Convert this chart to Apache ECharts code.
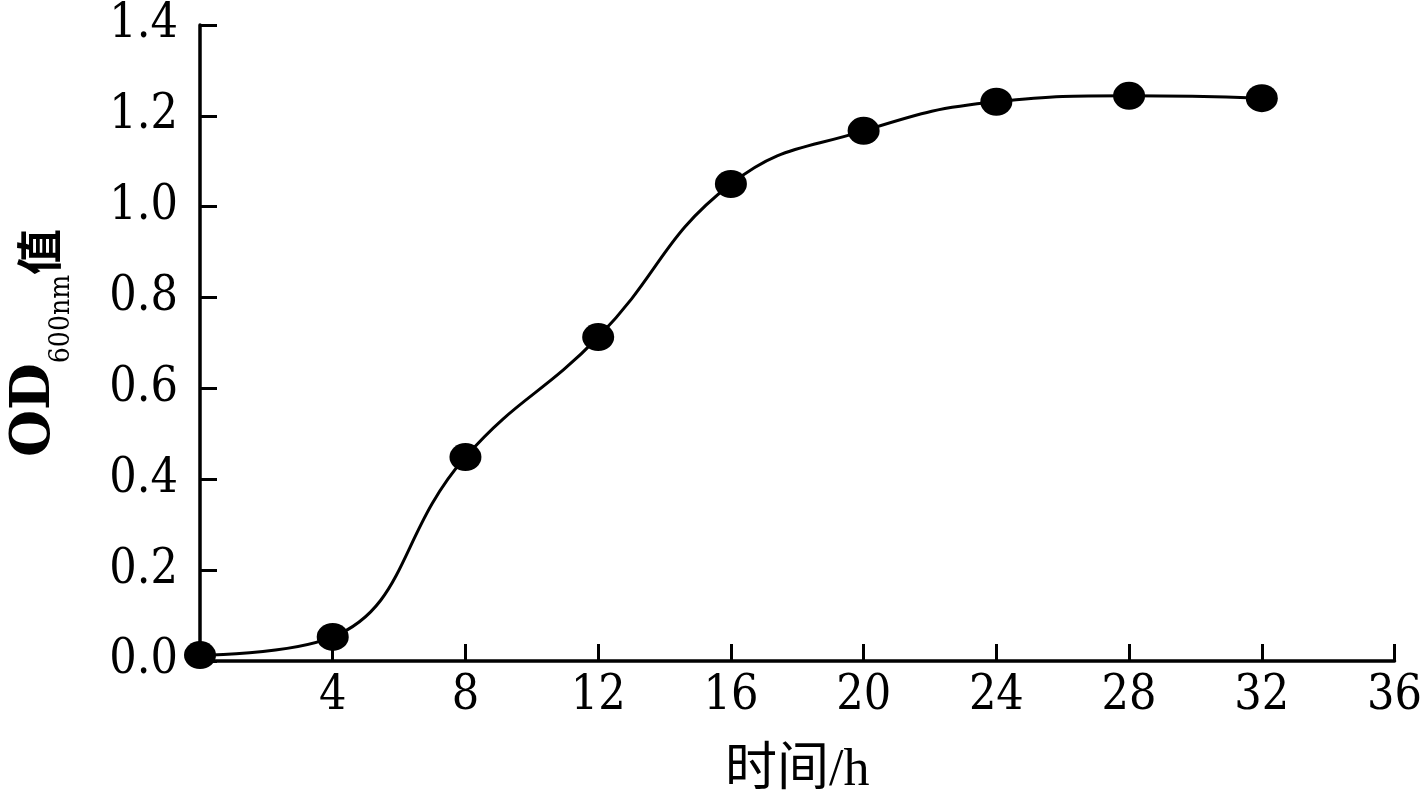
<!DOCTYPE html>
<html>
<head>
<meta charset="utf-8">
<script src="https://cdn.jsdelivr.net/npm/echarts@6/dist/echarts.min.js"></script>
<style>
html,body{margin:0;padding:0;background:#fff;}
#chart{width:1425px;height:806px;}
</style>
</head>
<body>
<div id="chart"></div>
<script>
// Data
var timeHours = [0, 4, 8, 12, 16, 20, 24, 28, 32];
var odValues = [0.013, 0.053, 0.449, 0.713, 1.050, 1.167, 1.231, 1.244, 1.239];
var xAxisName = '时间/h';
var yNameMain = 'OD';
var yNameSub = '600nm';
var yNameTail = '值';

var numFont = '"DejaVu Serif Condensed", "DejaVu Serif", serif';
var cjkFont = '"Noto Sans CJK SC", sans-serif';

var seriesData = timeHours.map(function (t, i) { return [t, odValues[i]]; });

var chart = echarts.init(document.getElementById('chart'), null, {renderer: 'canvas'});
chart.setOption({
  backgroundColor: '#fff',
  animation: false,
  grid: {left: 200, right: 28, top: 25, bottom: 145, containLabel: false},
  xAxis: {
    type: 'value',
    min: 0, max: 36, interval: 4,
    name: xAxisName,
    nameLocation: 'middle',
    nameGap: 84,
    nameTextStyle: {
      fontFamily: '"Liberation Serif", "Noto Sans CJK SC", serif', fontSize: 52, color: '#000'
    },
    axisLine: {show: true, onZero: false, lineStyle: {color: '#000', width: 3.5}},
    axisTick: {show: true, inside: true, length: 17, lineStyle: {color: '#000', width: 3}},
    axisLabel: {
      color: '#000', fontFamily: numFont, fontSize: 48, margin: 12,
      showMinLabel: false,
      formatter: function (v) { return v === 0 ? '' : String(v); }
    },
    splitLine: {show: false}
  },
  yAxis: {
    type: 'value',
    min: 0, max: 1.4, interval: 0.2,
    name: '{m|' + yNameMain + '}{s|' + yNameSub + '}{c|' + yNameTail + '}',
    nameLocation: 'middle',
    nameRotate: 90,
    nameGap: 138,
    nameTextStyle: {
      rich: {
        m: {fontFamily: '"DejaVu Serif", serif', fontWeight: 'bold', fontSize: 54, color: '#000', verticalAlign: 'bottom'},
        s: {fontFamily: numFont, fontSize: 28, color: '#000', verticalAlign: 'bottom', padding: [0, 0, -14, 0]},
        c: {fontFamily: cjkFont, fontWeight: 'bold', fontSize: 46, color: '#000', verticalAlign: 'bottom'}
      }
    },
    axisLine: {show: true, lineStyle: {color: '#000', width: 3.5}},
    axisTick: {show: true, inside: true, length: 17, lineStyle: {color: '#000', width: 3}},
    axisLabel: {
      color: '#000', fontFamily: numFont, fontSize: 48, margin: 22,
      formatter: function (v) { return v.toFixed(1); }
    },
    splitLine: {show: false}
  },
  series: [{
    type: 'line',
    data: seriesData,
    smooth: 0.45,
    symbol: 'circle',
    symbolSize: [32, 28],
    itemStyle: {color: '#000'},
    lineStyle: {color: '#000', width: 3},
    clip: false
  }]
});
</script>
</body>
</html>
